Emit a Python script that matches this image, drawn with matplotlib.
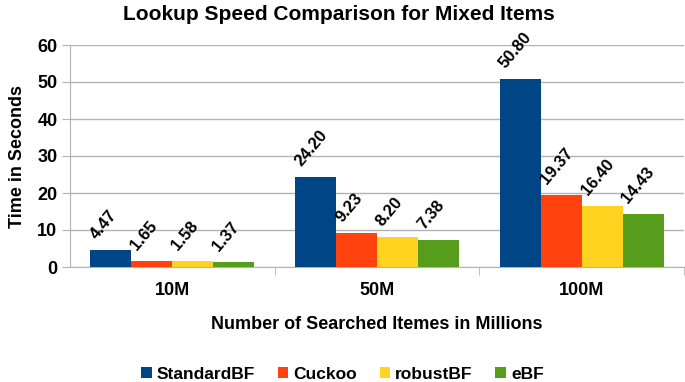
import numpy as np
import matplotlib.pyplot as plt

plt.rcParams['font.family'] = 'Liberation Sans'
plt.rcParams['font.weight'] = 'bold'

# data
categories = ['10M', '50M', '100M']
series = ['StandardBF', 'Cuckoo', 'robustBF', 'eBF']
values = [
    [4.47, 24.20, 50.80],
    [1.65, 9.23, 19.37],
    [1.58, 8.20, 16.40],
    [1.37, 7.38, 14.43],
]
colors = ['#004586', '#ff420e', '#ffd320', '#579d1c']

fig = plt.figure(figsize=(6.85, 3.82), dpi=100)
ax = fig.add_axes([70/685, 1-267/382, 614/685, 222/382])

w = 0.2
x = np.arange(len(categories))
for i, (name, vals) in enumerate(zip(series, values)):
    pos = x - 0.3 + i*w
    ax.bar(pos, vals, width=w, color=colors[i], label=name, zorder=3)
    for p, v in zip(pos, vals):
        ax.text(p - 0.06, v + 2.2, '{:.2f}'.format(v), rotation=50, ha='left', va='bottom',
                fontsize=12, fontweight='bold', rotation_mode='anchor')

ax.set_xlim(-0.5, 2.5)
ax.set_ylim(0, 60)
ax.set_yticks(range(0, 61, 10))
ax.set_xticks(x)
ax.set_xticklabels(categories)
ax.set_xticks([0.5, 1.5, 2.5], minor=True)
ax.tick_params(axis='x', which='major', length=0, pad=11, labelsize=13)
ax.tick_params(axis='x', which='minor', length=6, color='#b3b3b3')
ax.tick_params(axis='y', length=6, color='#b3b3b3', labelsize=13, pad=3)
ax.yaxis.grid(True, color='#b3b3b3', linewidth=1, zorder=0)
for s in ['top', 'right']:
    ax.spines[s].set_visible(False)
for s in ['left', 'bottom']:
    ax.spines[s].set_color('#b3b3b3')

fig.text(0.495, 0.963, 'Lookup Speed Comparison for Mixed Items', fontsize=15, fontweight='bold',
         ha='center', va='center')
ax.set_xlabel('Number of Searched Itemes in Millions', fontsize=13, fontweight='bold', labelpad=12)
ax.set_ylabel('Time in Seconds', fontsize=13, fontweight='bold', labelpad=8)

fig.legend(loc='lower center', bbox_to_anchor=(0.5, -0.04), ncol=4, frameon=False,
           fontsize=12.5, handlelength=0.6, handleheight=0.6, handletextpad=0.3, columnspacing=1.3)

fig.savefig('out.png', dpi=100)
